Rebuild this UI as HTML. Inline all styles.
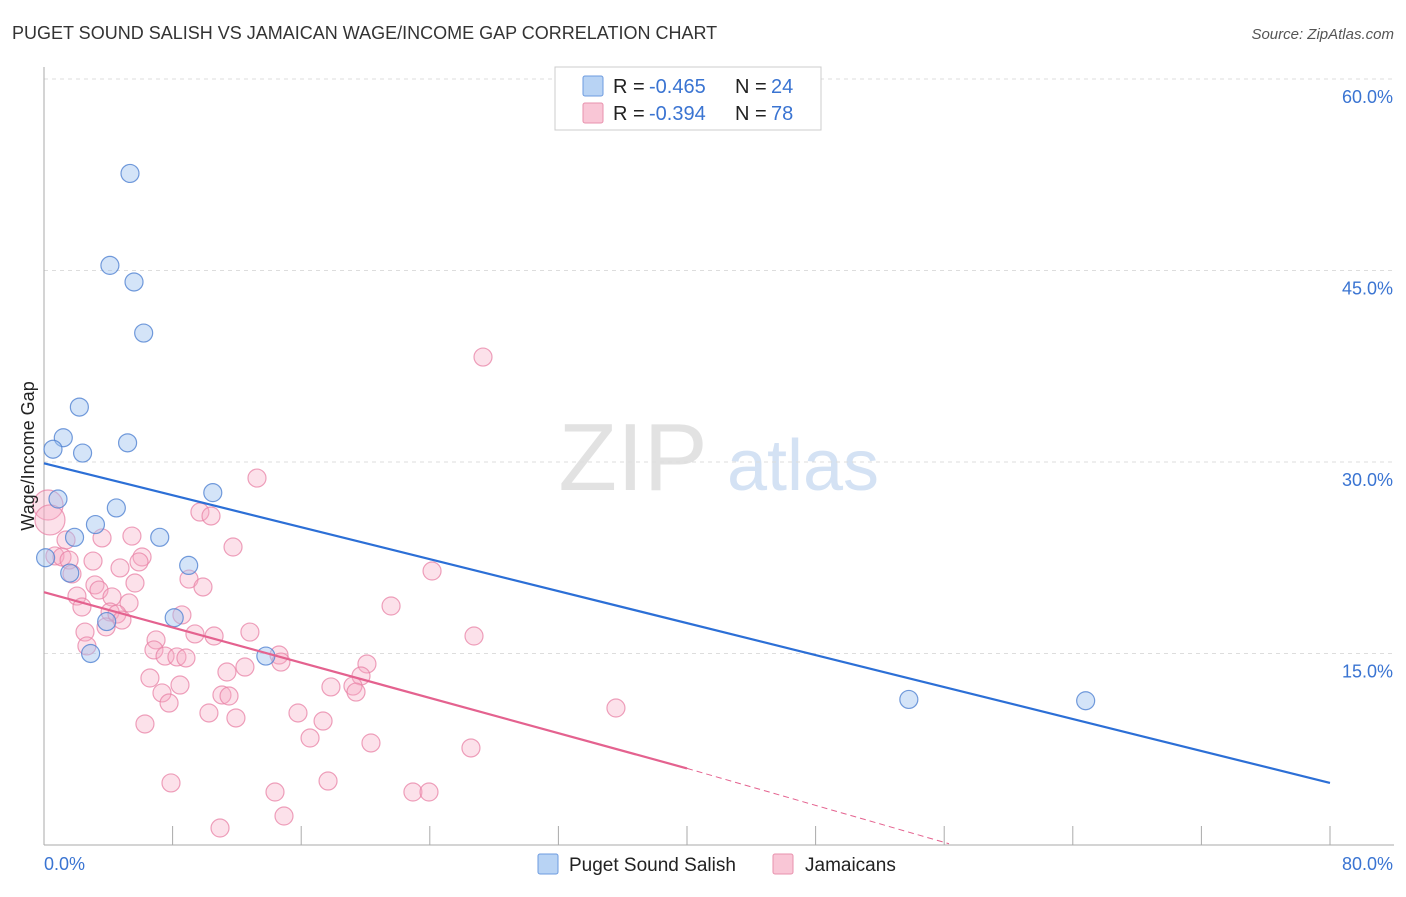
<!DOCTYPE html>
<html><head><meta charset="utf-8">
<style>
body{margin:0;background:#fff;font-family:"Liberation Sans",sans-serif;}
svg text{font-family:"Liberation Sans",sans-serif;}
</style></head>
<body>
<svg id="chart" width="1406" height="892" viewBox="0 0 1406 892" xmlns="http://www.w3.org/2000/svg">
<text x="12" y="39" font-size="18" fill="#333">PUGET SOUND SALISH VS JAMAICAN WAGE/INCOME GAP CORRELATION CHART</text>
<text x="1394" y="39" font-size="15" fill="#555" text-anchor="end" font-style="italic">Source: ZipAtlas.com</text>
<g>
<text x="633" y="490" font-size="96" fill="#e2e2e2" text-anchor="middle" font-family="Liberation Serif,serif">ZIP</text>
<text x="803" y="490" font-size="72" fill="#d4e2f4" text-anchor="middle">atlas</text>
</g>
<g id="grid"></g>
<g id="axes"></g>
<g id="marks"></g>
<g>
<rect x="555" y="67" width="266" height="63" fill="#fff" stroke="#ccc"/>
<rect x="583" y="76" width="20" height="20" fill="#b8d3f4" stroke="#6d9bdf" rx="2"/>
<rect x="583" y="103" width="20" height="20" fill="#f9c6d6" stroke="#e891ad" rx="2"/>
<text x="613" y="93" font-size="20" fill="#222">R = </text>
<text x="649" y="93" font-size="20" fill="#3a74d2">-0.465</text>
<text x="735" y="93" font-size="20" fill="#222">N = </text>
<text x="771" y="93" font-size="20" fill="#3a74d2">24</text>
<text x="613" y="120" font-size="20" fill="#222">R = </text>
<text x="649" y="120" font-size="20" fill="#3a74d2">-0.394</text>
<text x="735" y="120" font-size="20" fill="#222">N = </text>
<text x="771" y="120" font-size="20" fill="#3a74d2">78</text>
</g>
<g>
<rect x="538" y="854" width="20" height="20" fill="#b8d3f4" stroke="#6d9bdf" rx="2"/>
<text x="569" y="871" font-size="19" fill="#222">Puget Sound Salish</text>
<rect x="773" y="854" width="20" height="20" fill="#f9c6d6" stroke="#e891ad" rx="2"/>
<text x="805" y="871" font-size="19" fill="#222">Jamaicans</text>
</g>
<text transform="translate(34,456) rotate(-90)" font-size="18" fill="#222" text-anchor="middle">Wage/Income Gap</text>
</svg>
<script>
const yTicks=[15,30,45,60];
const yTickLabels=["15.0%","30.0%","45.0%","60.0%"];
const blueX=[5.35,4.1,5.6,6.2,2.2,1.2,0.56,2.4,5.2,0.87,10.5,4.5,3.2,1.9,7.2,0.1,1.6,9.0,3.9,8.1,2.9,13.8,53.8,64.8];
const blueY=[52.6,45.4,44.1,40.1,34.3,31.9,31.0,30.7,31.5,27.1,27.6,26.4,25.1,24.1,24.1,22.5,21.3,21.9,17.5,17.8,15.0,14.8,11.4,11.3];
const pinkX=[27.31,13.25,0.25,0.37,9.70,10.39,11.76,1.37,3.61,5.47,0.68,1.12,1.56,3.05,6.10,5.91,24.14,1.74,4.73,9.02,9.89,5.66,3.17,3.42,2.05,4.23,5.29,2.36,4.11,4.54,4.85,8.58,21.59,3.86,2.55,12.81,9.39,10.58,6.97,26.75,2.67,6.84,7.53,8.27,8.83,14.62,14.74,20.09,12.50,11.38,19.72,6.59,8.46,17.85,19.22,7.34,11.07,11.51,19.41,7.78,10.26,11.94,15.80,17.36,35.58,6.28,16.55,20.34,26.56,7.90,17.67,14.37,22.95,23.95,14.93,10.95];
const pinkY=[38.22,28.74,26.63,25.46,26.08,25.77,23.34,23.89,24.05,24.20,22.64,22.56,22.32,22.24,22.56,22.17,21.46,21.23,21.70,20.83,20.21,20.52,20.37,19.97,19.50,19.43,18.96,18.64,18.25,18.09,17.62,18.02,18.72,17.08,16.68,16.68,16.53,16.37,16.06,16.37,15.59,15.28,14.80,14.73,14.65,14.88,14.33,14.18,13.94,13.55,13.24,13.08,12.53,12.38,12.45,11.91,11.75,11.67,11.98,11.12,10.34,9.95,10.34,9.71,10.73,9.48,8.38,7.99,7.60,4.86,5.01,4.15,4.15,4.15,2.27,1.33];
const pinkBig=[0,0,1,1];
const blueTrend=[29.9,4.86];
const pinkTrend=[19.8,6.0,0.1];
const NS="http://www.w3.org/2000/svg";
const X=v=>44+v*16.075, Y=v=>845-v*12.767;
function mk(t,a,p){const e=document.createElementNS(NS,t);for(const k in a)e.setAttribute(k,a[k]);p.appendChild(e);return e;}
const grid=document.getElementById('grid'),axes=document.getElementById('axes'),marks=document.getElementById('marks');
yTicks.forEach((t,i)=>{
 const l=mk('line',{x1:44,x2:1394,y1:Y(t),y2:Y(t),stroke:'#ddd','stroke-dasharray':'4,4'},grid);
 
 
 const tx=mk('text',{x:1393,y:Y(t)+24,'font-size':18,fill:'#3a74d2','text-anchor':'end'},axes);
 tx.textContent=yTickLabels[i];
 
 
});
const ax=mk('line',{x1:44,x2:1394,y1:845,y2:845,stroke:'#aaa'},axes);


const ay=mk('line',{x1:44,x2:44,y1:67,y2:845,stroke:'#aaa'},axes);


for(let i=0;i<=10;i++){const t=mk('line',{x1:X(i*8),x2:X(i*8),y1:826,y2:845,stroke:'#aaa'},axes);
 
 }
const x0=mk('text',{x:44,y:870,'font-size':18,fill:'#3a74d2'},axes);x0.textContent='0.0%';


const x1=mk('text',{x:1393,y:870,'font-size':18,fill:'#3a74d2','text-anchor':'end'},axes);x1.textContent='80.0%';


pinkX.forEach((v,i)=>{const c=mk('circle',{cx:X(v),cy:Y(pinkY[i]),r:pinkBig[i]?15:9,fill:'rgba(246,170,196,0.35)',stroke:'rgba(232,130,165,0.75)','stroke-width':1.2},marks);
 
 });
blueX.forEach((v,i)=>{const c=mk('circle',{cx:X(v),cy:Y(blueY[i]),r:9,fill:'rgba(160,195,240,0.45)',stroke:'rgba(80,130,210,0.8)','stroke-width':1.2},marks);
 
 });
const bl=mk('line',{x1:X(0),y1:Y(blueTrend[0]),x2:X(80),y2:Y(blueTrend[1]),stroke:'#2c6fd6','stroke-width':2.2},marks);


const pl=mk('line',{x1:X(0),y1:Y(pinkTrend[0]),x2:X(40),y2:Y(pinkTrend[1]),stroke:'#e4628f','stroke-width':2.2},marks);


const pd=mk('line',{x1:X(40),y1:Y(pinkTrend[1]),x2:X(56.3),y2:Y(pinkTrend[2]),stroke:'#e4628f','stroke-width':1,'stroke-dasharray':'6,4'},marks);


</script>
</body></html>
